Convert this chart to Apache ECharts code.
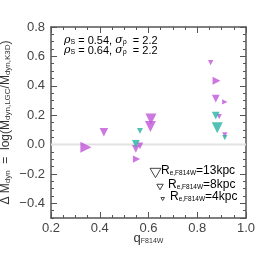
<!DOCTYPE html>
<html><head><meta charset="utf-8">
<script src="https://cdn.jsdelivr.net/npm/echarts@6/dist/echarts.min.js"></script>
<style>html,body{margin:0;padding:0;background:#fff}#c{width:258px;height:258px}</style>
</head><body><div id="c"></div>
<script>
// data
var magentaQ  = [0.343, 0.417, 0.548, 0.565, 0.551, 0.610, 0.608, 0.855, 0.879, 0.876, 0.913, 0.890, 0.913];
var magentaDM = [-0.018, 0.084, -0.030, -0.009, -0.099, 0.174, 0.122, 0.558, 0.434, 0.312, 0.290, 0.190, 0.066];
var magentaRe = [13, 9, 8, 6, 7, 13, 13, 4, 8, 8, 4, 4, 4];
var magentaDir = ['right','down','down','down','right','down','down','down','right','down','right','down','down'];
var tealQ  = [0.565, 0.548, 0.876, 0.882, 0.913];
var tealDM = [0.093, 0.005, 0.197, 0.115, 0.047];
var tealRe = [5, 8, 8, 13, 4];
var tealDir = ['down','down','down','down','down'];
var xTicks = [0.2, 0.4, 0.6, 0.8, 1.0];
var yTicks = [-0.4, -0.2, 0.0, 0.2, 0.4, 0.6, 0.8];
var statsBlack = {rho: '0.54', sigma: '2.2'};
var statsMagenta = {rho: '0.64', sigma: '2.2'};
var legendRe = [13, 8, 4];

var MAG = '#c055d8', TEAL = '#26b3a3', AX = '#555';
function sz(re){ return 2.8 + 0.63*re; }
function pts(q, d, re, dir){
  return q.map(function(v,i){
    return {value:[v, d[i]], symbolSize: sz(re[i]), symbolRotate: dir[i]==='right' ? -90 : 180};
  });
}
var chart = echarts.init(document.getElementById('c'), null, {renderer:'canvas'});
var F = 'Liberation Sans, Arial, sans-serif';
function fmt(v){ var s = Math.abs(v).toFixed(1); return v < -1e-9 ? '\u2212'+s : s; }
var sub = {fontSize:8, verticalAlign:'bottom', lineHeight:9, fontFamily:F, color:'#333'};
var option = {
  animation:false,
  grid:{left:51, right:12, top:27, bottom:40, containLabel:false, outerBoundsMode:'none'},
  xAxis:[
    {type:'value', position:'bottom', min:0.2, max:1.0, interval:0.2,
     axisLine:{show:true, onZero:false, lineStyle:{color:AX, width:1.5}},
     axisTick:{show:true, inside:true, length:6, lineStyle:{color:AX}},
     minorTick:{show:true, splitNumber:4, length:3, lineStyle:{color:AX}},
     splitLine:{show:false},
     axisLabel:{fontSize:13, color:'#444', fontFamily:F, margin:4, formatter:fmt},
     name:'{b|q}{s|F814W}', nameLocation:'middle', nameGap:13, nameMoveOverlap:false,
     nameTextStyle:{rich:{b:{fontSize:13, color:'#333', fontFamily:F, lineHeight:14, verticalAlign:'bottom'}, s:{fontSize:7, color:'#333', fontFamily:F, verticalAlign:'bottom', lineHeight:9}}}},
    {type:'value', position:'top', min:0.2, max:1.0, interval:0.2,
     axisLine:{show:true, onZero:false, lineStyle:{color:AX, width:1.5}},
     axisTick:{show:true, inside:true, length:6, lineStyle:{color:AX}},
     minorTick:{show:true, splitNumber:4, length:3, lineStyle:{color:AX}},
     splitLine:{show:false}, axisLabel:{show:false}}
  ],
  yAxis:[
    {type:'value', position:'left', min:-0.5, max:0.8, splitNumber:6,
     axisLine:{show:true, onZero:false, lineStyle:{color:AX, width:1.5}},
     axisTick:{show:true, inside:true, length:6, lineStyle:{color:AX}},
     splitLine:{show:false},
     axisLabel:{fontSize:13, color:'#444', fontFamily:F, margin:6, formatter:fmt, showMinLabel:false},
     name:'{b|\u0394 M}{s|dyn}{b|  =  log(M}{s|dyn,LGC}{b|/M}{s|dyn,K3D}{b|)}',
     nameLocation:'middle', nameGap:39, nameRotate:90, nameMoveOverlap:false,
     nameTextStyle:{rich:{b:{fontSize:12, color:'#333', fontFamily:F, lineHeight:14, verticalAlign:'bottom'}, s:sub}}},
    {type:'value', position:'left', min:-0.5, max:0.8, interval:0.05,
     axisLine:{show:false, onZero:false}, axisTick:{show:true, inside:true, length:3, lineStyle:{color:AX}},
     splitLine:{show:false}, axisLabel:{show:false}},
    {type:'value', position:'right', min:-0.5, max:0.8, splitNumber:6,
     axisLine:{show:true, onZero:false, lineStyle:{color:AX, width:1.5}},
     axisTick:{show:true, inside:true, length:6, lineStyle:{color:AX}},
     splitLine:{show:false}, axisLabel:{show:false}},
    {type:'value', position:'right', min:-0.5, max:0.8, interval:0.05,
     axisLine:{show:false, onZero:false}, axisTick:{show:true, inside:true, length:3, lineStyle:{color:AX}},
     splitLine:{show:false}, axisLabel:{show:false}}
  ],
  series:[
    {type:'line', data:[[0.2,0],[1.0,0]], symbol:'none', lineStyle:{color:'#e2e2e2', width:2}, z:1, silent:true},
    {type:'scatter', symbol:'triangle', data:pts(magentaQ, magentaDM, magentaRe, magentaDir), itemStyle:{color:MAG}, z:3},
    {type:'scatter', symbol:'triangle', data:pts(tealQ, tealDM, tealRe, tealDir), itemStyle:{color:TEAL}, z:4}
  ],
  graphic:[]
};
// annotation texts
var statRich = {
  g:{fontSize:11, fontStyle:'italic', fontFamily:'DejaVu Serif, serif'},
  t:{fontSize:11, fontFamily:F},
  s:{fontSize:7, fontFamily:F, verticalAlign:'bottom', lineHeight:8}
};
function statText(st, color, y){
  var r = {};
  Object.keys(statRich).forEach(function(k){ r[k] = Object.assign({color:color}, statRich[k]); });
  return {type:'text', left:64, top:y, style:{text:'{g|\u03c1}{s|S}{t| = '+st.rho+', }{g|\u03c3}{s|\u03c1}{t|  = '+st.sigma+'}', rich:r}};
}
option.graphic.push(statText(statsBlack, '#222', 35));
option.graphic.push(statText(statsMagenta, MAG, 45));
// size legend
var legY = [173, 187, 199], legX = [155.5, 160, 162.7], textX = [161, 168, 170], legH = [5.5, 3.2, 1.8];
legendRe.forEach(function(re, i){
  var h = legH[i];
  option.graphic.push({type:'polygon', shape:{points:[[legX[i]-h, legY[i]-h*0.85],[legX[i]+h, legY[i]-h*0.85],[legX[i], legY[i]+h*0.85]]},
    style:{fill:'none', stroke:'#444', lineWidth:1}});
  option.graphic.push({type:'text', left:textX[i], top:legY[i]-8, style:{text:'{b|R}{s|e,F814W}{b|='+re+'kpc}',
    rich:{b:{fontSize:12, fontFamily:F, color:'#222', lineHeight:14, verticalAlign:'bottom'}, s:{fontSize:6.5, fontFamily:F, color:'#222', verticalAlign:'bottom', lineHeight:8}}}});
});
chart.setOption(option);
</script></body></html>
